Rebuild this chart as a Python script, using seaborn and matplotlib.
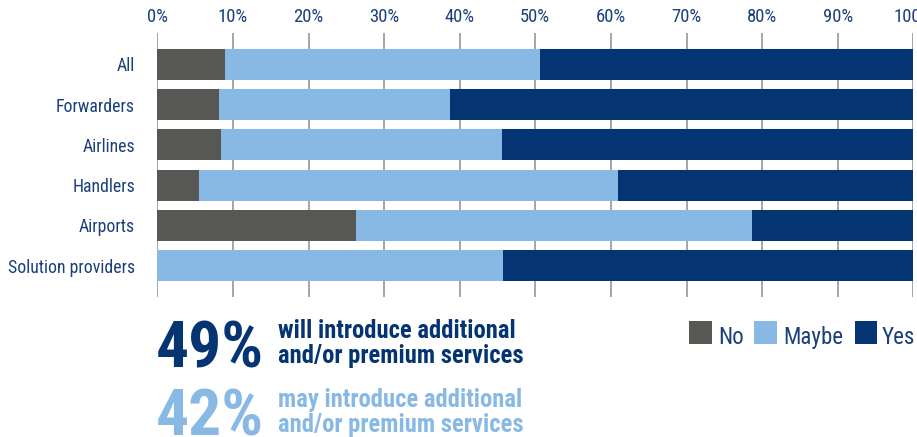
import matplotlib
matplotlib.use("Agg")
import matplotlib.pyplot as plt
from matplotlib import font_manager
from matplotlib.patches import Rectangle
import seaborn as sns
import pandas as pd

categories = ["All", "Forwarders", "Airlines", "Handlers", "Airports", "Solution providers"]
no_vals = [9.0, 8.2, 8.4, 5.5, 26.3, 0.0]
maybe_vals = [41.6, 30.5, 37.2, 55.4, 52.4, 45.7]
yes_vals = [49.4, 61.3, 54.4, 39.1, 21.3, 54.3]
tick_vals = [0, 10, 20, 30, 40, 50, 60, 70, 80, 90, 100]
tick_labels = [f"{v}%" for v in tick_vals]
series_names = ["No", "Maybe", "Yes"]

C_NO = "#575753"
C_MAYBE = "#88b9e4"
C_YES = "#043572"
C_TEXT = "#1b3f7c"

sns.set_theme(style="white")

fl = font_manager.fontManager.ttflist
names = {f.name for f in fl}
prefs = ["Roboto Condensed", "Archivo Narrow", "PT Sans Narrow", "Liberation Sans Narrow",
         "Barlow Semi Condensed", "Fira Sans Condensed", "IBM Plex Sans Condensed",
         "Asap Condensed", "Encode Sans Condensed", "Open Sans Condensed",
         "Barlow Condensed", "Roboto", "Liberation Sans", "DejaVu Sans"]
fam = next(p for p in prefs if p in names)
bold_fam = next((p for p in prefs if p in names and
                 any(f.name == p and (f.weight in ("bold", 700) or
                                      (isinstance(f.weight, int) and f.weight >= 700))
                     for f in fl)), fam)
plt.rcParams["font.family"] = [fam, "DejaVu Sans"]

df = pd.DataFrame({"cat": categories, "No": no_vals, "Maybe": maybe_vals, "Yes": yes_vals})
df["c_maybe"] = df["No"] + df["Maybe"]
df["c_yes"] = df["c_maybe"] + df["Yes"]

W, H = 917, 437
fig = plt.figure(figsize=(W / 100, H / 100), dpi=100)
ax = fig.add_axes([157.3 / W, 1 - 297 / H, 756 / W, 264 / H])

for col, color in [("c_yes", C_YES), ("c_maybe", C_MAYBE), ("No", C_NO)]:
    sns.barplot(data=df, x=col, y="cat", orient="h", color=color, width=0.77,
                saturation=1, ax=ax, zorder=3, linewidth=0)

ax.set_xlim(0, 100)
ax.set_ylim(5.78, -0.78)
ax.set_xticks(tick_vals)
ax.set_xticklabels(tick_labels)
ax.xaxis.tick_top()
ax.tick_params(axis="x", length=0, pad=5, labelsize=12, labelcolor=C_TEXT)
ax.tick_params(axis="y", length=0, pad=16, labelsize=13, labelcolor=C_TEXT)
for v in tick_vals:
    ax.axvline(v, color="#8c8c8c", lw=1.1, zorder=1)
for s in ax.spines.values():
    s.set_visible(False)
ax.set_xlabel("")
ax.set_ylabel("")
ax.grid(False)

fig.canvas.draw()
r = fig.canvas.get_renderer()

def width(t):
    return t.get_window_extent(r).width

# fit tick label sizes
xl = ax.get_xticklabels()
sx = 30.0 / width(xl[1])
for t in xl:
    t.set_fontsize(t.get_fontsize() * sx)
yl = ax.get_yticklabels()
sy = 127.0 / width(yl[-1])
for t in yl:
    t.set_fontsize(t.get_fontsize() * sy)

def px(x, y):
    return x / W, 1 - y / H

def fit_text(t, target_w):
    fig.canvas.draw()
    t.set_fontsize(t.get_fontsize() * target_w / width(t))

# Legend (manual)
leg_texts = []
for (x0, x1), c, lab, tx in [((689, 712), C_NO, "No", 718), ((754, 777), C_MAYBE, "Maybe", 783),
                              ((855, 877), C_YES, "Yes", 882)]:
    fig.patches.append(Rectangle(px(x0, 344), (x1 - x0) / W, 23 / H, transform=fig.transFigure,
                                 facecolor=c, edgecolor="none"))
    leg_texts.append(fig.text(*px(tx, 344), lab, fontsize=20, color=C_TEXT,
                              ha="left", va="baseline"))
fit_text(leg_texts[1], 60)
for t in leg_texts:
    t.set_fontsize(leg_texts[1].get_fontsize())

# Big annotation texts
t49 = fig.text(*px(156, 367), "49%", fontsize=46, fontweight="bold", color=C_YES,
               ha="left", va="baseline", family=[bold_fam, "DejaVu Sans"])
t42 = fig.text(*px(156, 435), "42%", fontsize=46, fontweight="bold", color=C_MAYBE,
               ha="left", va="baseline", family=[bold_fam, "DejaVu Sans"])
fit_text(t49, 108)
t42.set_fontsize(t49.get_fontsize())

lines = [("will introduce additional", 338, C_YES), ("and/or premium services", 363, C_YES),
         ("may introduce additional", 407, C_MAYBE), ("and/or premium services", 432, C_MAYBE)]
txts = []
for s, yb, c in lines:
    txts.append(fig.text(*px(278, yb), s, fontsize=15, fontweight="bold", color=c,
                         ha="left", va="baseline", family=[bold_fam, "DejaVu Sans"]))
fit_text(txts[0], 237)
for t in txts[1:]:
    t.set_fontsize(txts[0].get_fontsize())

fig.savefig("out.png", dpi=100)
